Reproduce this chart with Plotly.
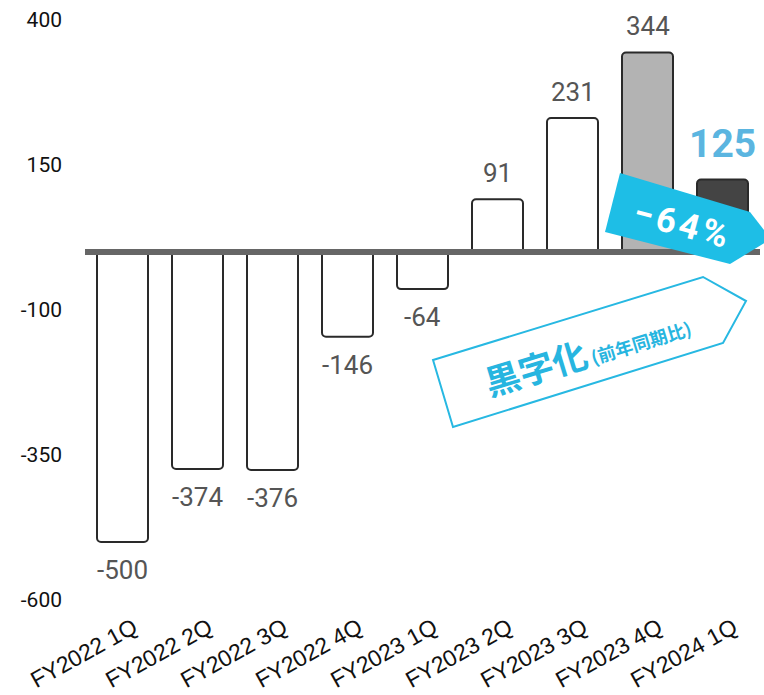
import plotly.graph_objects as go

# Quarterly results
quarters = ["FY2022 1Q", "FY2022 2Q", "FY2022 3Q", "FY2022 4Q", "FY2023 1Q",
            "FY2023 2Q", "FY2023 3Q", "FY2023 4Q", "FY2024 1Q"]
values = [-500, -374, -376, -146, -64, 91, 231, 344, 125]
bar_fills = ["#ffffff"] * 7 + ["#b3b3b3", "#444444"]
y_ticks = [400, 150, -100, -350, -600]

W, H = 764, 695
ML, MR, MT, MB = 85, 4, 20, 95


def paper(px, py):
    """Convert pixel position in the figure to paper coordinates."""
    return (px - ML) / (W - ML - MR), (H - MB - py) / (H - MT - MB)


def path(points):
    pts = [paper(x, y) for x, y in points]
    return "M " + " L ".join(f"{x:.4f},{y:.4f}" for x, y in pts) + " Z"


fig = go.Figure(go.Bar(
    x=quarters, y=values, width=0.68,
    marker=dict(color=bar_fills, line=dict(color="#2a2a2a", width=2), cornerradius=4),
    hoverinfo="skip",
))

# value labels
annotations = []
for q, v in zip(quarters[:-1], values[:-1]):
    annotations.append(dict(
        x=q, y=v, text=str(v), showarrow=False,
        xanchor="center", yanchor="bottom" if v > 0 else "top",
        yshift=9 if v > 0 else -11,
        font=dict(family="Roboto", size=26, color="#555555"),
    ))
annotations.append(dict(
    x=quarters[-1], y=values[-1], text=f"<b>{values[-1]}</b>", showarrow=False,
    xanchor="center", yanchor="bottom", yshift=11,
    font=dict(family="Roboto", size=39, color="#5bb5e0"),
))

# arrow callouts
cx, cy = paper(681, 224)
annotations.append(dict(
    x=cx, y=cy, xref="paper", yref="paper", text="<b>\u2212\u200a6\u200a4\u200a%</b>",
    showarrow=False, textangle=15, xanchor="center", yanchor="middle",
    font=dict(family="Roboto", size=35, color="#ffffff"),
))
cx, cy = paper(535, 367)
annotations.append(dict(
    x=cx, y=cy, xref="paper", yref="paper", text="<b>黒字化</b>",
    showarrow=False, textangle=-17, xanchor="center", yanchor="middle",
    font=dict(family="Noto Sans CJK JP", size=35, color="#27b5e0"),
))
cx, cy = paper(641, 342)
annotations.append(dict(
    x=cx, y=cy, xref="paper", yref="paper", text="<b>(前年同期比)</b>",
    showarrow=False, textangle=-17, xanchor="center", yanchor="middle",
    font=dict(family="Noto Sans CJK JP", size=18, color="#27b5e0"),
))

shapes = [
    # zero baseline
    dict(type="line", xref="paper", yref="y", x0=0, x1=1, y0=0, y1=0,
         line=dict(color="#666666", width=6), layer="above"),
    # year-on-year change badge
    dict(type="path", xref="paper", yref="paper",
         path=path([(620, 173), (750, 212), (771, 239), (730, 264), (605, 232)]),
         fillcolor="#1ebee6", line=dict(width=0), layer="above"),
    # turnaround callout
    dict(type="path", xref="paper", yref="paper",
         path=path([(433, 360), (703, 277), (746, 301), (723, 343), (453, 427)]),
         fillcolor="#ffffff", line=dict(color="#27b8e2", width=2), layer="above"),
]

fig.update_layout(
    width=W, height=H,
    margin=dict(l=ML, r=MR, t=MT, b=MB, pad=0, autoexpand=False),
    paper_bgcolor="#ffffff", plot_bgcolor="#ffffff",
    showlegend=False,
    annotations=annotations,
    shapes=shapes,
    xaxis=dict(
        type="category", showgrid=False, showline=False, zeroline=False,
        automargin=False,
        tickangle=-29, ticks="", ticklabelshift=11, ticklabelstandoff=9,
        tickfont=dict(family="Liberation Sans", size=23, color="#111111"),
    ),
    yaxis=dict(
        range=[-600, 400], tickvals=y_ticks, ticktext=[str(t) for t in y_ticks],
        showgrid=False, showline=False, zeroline=False, ticks="",
        automargin=False,
        ticklabelstandoff=22,
        tickfont=dict(family="Roboto", size=21, color="#111111"),
    ),
)

fig.write_html("out.html")
